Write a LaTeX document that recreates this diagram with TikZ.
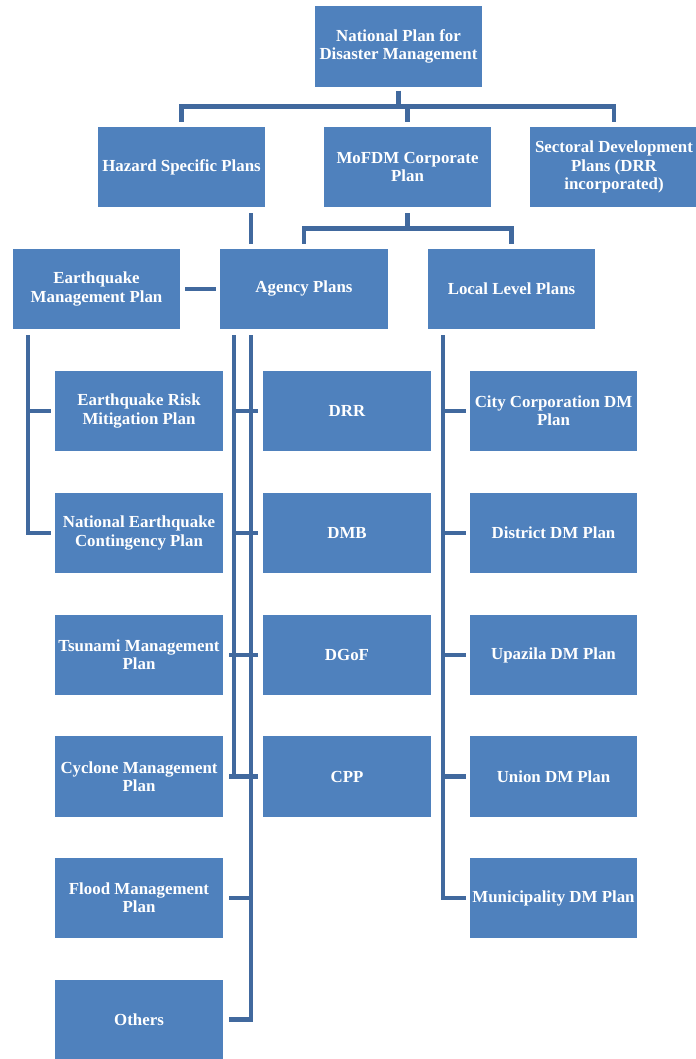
\documentclass[tikz,border=0pt]{standalone}
\usepackage{fontspec}
\setmainfont{Liberation Serif}

\definecolor{planblue}{HTML}{4F81BD}
\definecolor{linkblue}{HTML}{41699E}

\tikzset{
  plan/.style={fill=planblue, text=white, align=center, inner sep=0pt,
    font=\fontsize{12}{13}\selectfont\bfseries,
    minimum width=4.175cm, minimum height=2cm},
  link/.style={draw=linkblue, line width=3.4pt}
}

\begin{document}
\begin{tikzpicture}[x=0.025cm,y=-0.025cm]
\useasboundingbox (0,0) rectangle (696,1059);

% top levels
\node[plan] (nat) at (398.5,46.5) {National Plan for\\Disaster Management};
\node[plan] (haz) at (181.5,167) {Hazard Specific Plans};
\node[plan] (mof) at (407.5,167) {MoFDM Corporate\\Plan};
\node[plan] (sec) at (614,167) {Sectoral Development\\Plans (DRR\\incorporated)};

\node[plan] (eqm) at (96.5,289) {Earthquake\\Management Plan};
\node[plan] (agy) at (304,289) {Agency Plans};
\node[plan] (loc) at (511.5,289) {Local Level Plans};

% hazard plans
\node[plan] (eqr) at (139,411) {Earthquake Risk\\Mitigation Plan};
\node[plan] (neq) at (139,533) {National Earthquake\\Contingency Plan};
\node[plan] (tsu) at (139,655) {Tsunami Management\\Plan};
\node[plan] (cyc) at (139,776.5) {Cyclone Management\\Plan};
\node[plan] (fld) at (139,898) {Flood Management\\Plan};
\node[plan] (oth) at (139,1019.5) {Others};

% agency plans
\node[plan] (drr) at (347,411) {DRR};
\node[plan] (dmb) at (347,533) {DMB};
\node[plan] (dgf) at (347,655) {DGoF};
\node[plan] (cpp) at (347,776.5) {CPP};

% local level plans
\node[plan] (cty) at (553.5,411) {City Corporation DM\\Plan};
\node[plan] (dst) at (553.5,533) {District DM Plan};
\node[plan] (upz) at (553.5,655) {Upazila DM Plan};
\node[plan] (uni) at (553.5,776.5) {Union DM Plan};
\node[plan] (mun) at (553.5,898) {Municipality DM Plan};

% spines
\coordinate (eqs) at (28,0);
\coordinate (ags) at (234,0);
\coordinate (hzs) at (251,0);
\coordinate (lcs) at (443,0);

% connectors
\foreach \n in {haz,mof,sec}
  \draw[link, shorten <=0.1cm, shorten >=0.12cm] (nat.south) -- ++(0,20) -| (\n.north);
\foreach \n in {agy,loc}
  \draw[link, shorten <=0.15cm, shorten >=0.12cm] (mof.south) -- ++(0,21) -| (\n.north);

\draw[link, shorten <=0.15cm, shorten >=0.12cm] (haz.south -| hzs) -- (agy.north -| hzs);
\draw[link, shorten <=0.12cm, shorten >=0.1cm] (eqm.east) -- (agy.west);

\draw[link, shorten <=0.15cm, shorten >=0.1cm] (eqm.south -| eqs) -- (neq -| eqs) -- (neq.west);
\draw[link, shorten >=0.1cm] (eqr -| eqs) -- (eqr.west);

\draw[link, shorten <=0.15cm, shorten >=0.12cm] (agy.south -| ags) -- (cpp -| ags) -- (cpp.west);
\foreach \n in {drr,dmb,dgf}
  \draw[link, shorten >=0.12cm] (\n -| ags) -- (\n.west);

\draw[link, shorten <=0.15cm, shorten >=0.15cm] (agy.south -| hzs) -- (oth -| hzs) -- (oth.east);
\foreach \n in {tsu,cyc,fld}
  \draw[link, shorten >=0.15cm] (\n -| hzs) -- (\n.east);

\draw[link, shorten <=0.15cm, shorten >=0.1cm] (loc.south -| lcs) -- (mun -| lcs) -- (mun.west);
\foreach \n in {cty,dst,upz,uni}
  \draw[link, shorten >=0.1cm] (\n -| lcs) -- (\n.west);
\end{tikzpicture}
\end{document}
